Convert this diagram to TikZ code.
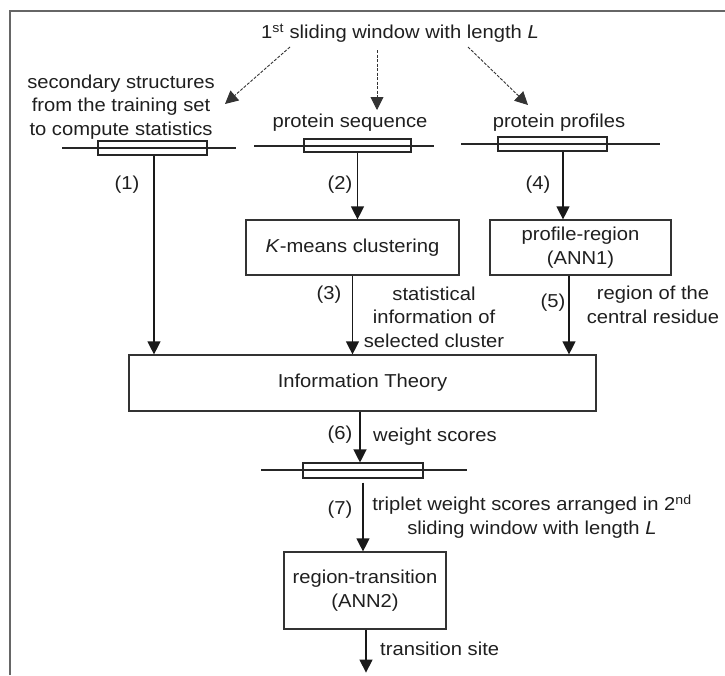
\documentclass[tikz,border=0pt]{standalone}
\usepackage{fontspec}
\setmainfont{Liberation Sans}[FakeStretch=1.08]
\usetikzlibrary{arrows.meta}
\newcommand\figfont{\fontsize{18.7pt}{23.5pt}\selectfont}

\begin{document}
\begin{tikzpicture}[x=1pt,y=-1pt,
  every node/.style={font=\figfont, text=black!88, inner sep=0pt},
  procbox/.style={draw=black!80, line width=1.2pt, align=center},
  winbox/.style={draw=black!85, line width=1.1pt, minimum height=14pt},
  winline/.style={draw=black!85, line width=1.1pt},
  flow/.style={draw=black!90, line width=1.2pt, -{Triangle[length=13pt,width=13pt]}},
  hint/.style={draw=black!80, line width=0.9pt, dash pattern=on 3pt off 1.5pt, -{Triangle[length=13pt,width=13pt]}},
  lbl/.style={align=center}
]
\useasboundingbox (0,0) rectangle (725,675);
% open frame: top and left edges only
\draw[black!60, line width=2pt] (10,675) -- (10,11) -- (725,11);

% headline and the three inputs
\node (title) at (400,33) {1\textsuperscript{st} sliding window with length \textit{L}};
\node[lbl] (ss) at (121,107) {secondary structures\\from the training set\\to compute statistics};
\node (ps) at (350,123) {protein sequence};
\node (pp) at (559,123) {protein profiles};

\coordinate (d1s) at (290,47);  \coordinate (d1e) at (225,104);
\coordinate (d2s) at (377,50);  \coordinate (d2e) at (377,110);
\coordinate (d3s) at (468,47);  \coordinate (d3e) at (528,105);
\draw[hint] (d1s) -- (d1e);
\draw[hint] (d2s) -- (d2e);
\draw[hint] (d3s) -- (d3e);

% sliding windows
\draw[winline] (62,148) -- (236,148);
\node[winbox, minimum width=109pt] (w1) at (152.5,148) {};
\draw[winline] (254,146) -- (434,146);
\node[winbox, minimum width=107pt, minimum height=13pt] (w2) at (357.5,145.5) {};
\draw[winline] (461,144) -- (660,144);
\node[winbox, minimum width=109pt] (w3) at (552.5,144) {};
\draw[winline] (261,470) -- (467,470);
\node[winbox, minimum width=120pt, minimum height=15pt] (w4) at (363,470.5) {};

% processing boxes
\node[procbox, minimum width=213pt, minimum height=55pt] (km) at (352.5,247.5) {\textit{K}-means clustering};
\node[procbox, minimum width=181pt, minimum height=55pt] (prof) at (580.5,247.5) {profile-region\\(ANN1)};
\node[procbox, minimum width=467pt, minimum height=56pt] (info) at (362.5,383) {Information Theory};
\node[procbox, minimum width=162pt, minimum height=77pt] (ann2) at (365,590.5) {region-transition\\(ANN2)};

% flow arrows
\draw[flow] ([xshift=1.5pt]w1.south) -- ([xshift=1.5pt]w1.south |- info.north);
\draw[flow] (w2.south) -- (w2.south |- km.north);
\draw[flow] ([xshift=10.5pt]w3.south) -- ([xshift=10.5pt]w3.south |- prof.north);
\draw[flow] (km.south) -- (km.south |- info.north);
\draw[flow] ([xshift=-11.5pt]prof.south) -- ([xshift=-11.5pt]prof.south |- info.north);
\draw[flow] ([xshift=-2.5pt]info.south) -- ([xshift=-2.5pt]info.south |- w4.north);
\draw[flow] ([yshift=-4pt]w4.south) -- (w4.south |- ann2.north);
\coordinate (out) at ([xshift=1pt,yshift=-43pt]ann2.south);
\draw[flow] ([xshift=1pt]ann2.south) -- (out);

% step numbers and annotations
\node (n1) at (127,185) {(1)};
\node (n2) at (340,185) {(2)};
\node (n4) at (538,185) {(4)};
\node (n3) at (329,295) {(3)};
\node (n5) at (553,303) {(5)};
\node (n6) at (340,435) {(6)};
\node (n7) at (340,510) {(7)};
\node[lbl] (stat) at (434,317) {statistical\\information of\\selected cluster};
\node[lbl] (reg) at (653,305) {region of the\\central residue};
\node[anchor=west] (ws) at (373,437) {weight scores};
\node[lbl] (trip) at (532,516.5) {triplet weight scores arranged in 2\textsuperscript{nd}\\sliding window with length \textit{L}};
\node[anchor=west] (ts) at (380,649) {transition site};
\end{tikzpicture}
\end{document}
